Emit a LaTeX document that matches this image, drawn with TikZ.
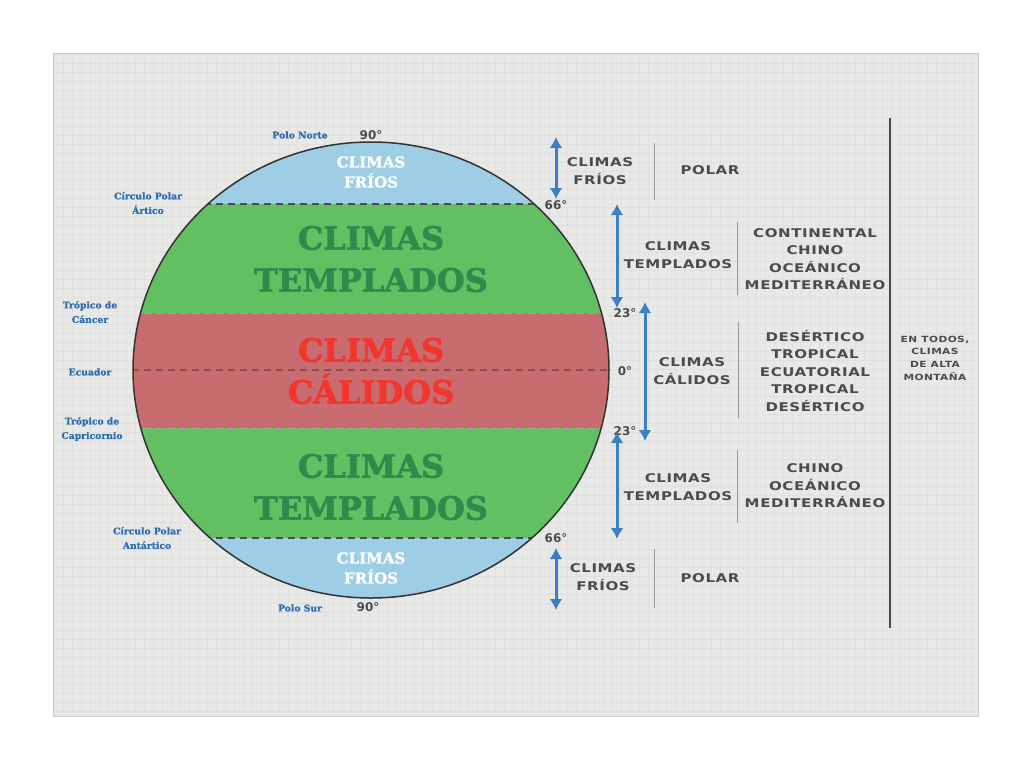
\documentclass[tikz,border=0pt]{standalone}
\usepackage{fontspec}
\usetikzlibrary{arrows.meta}
\setmainfont{DejaVu Serif}
\newfontfamily\slab{DejaVu Serif}[BoldFont={DejaVu Serif Bold},BoldFeatures={FakeBold=2}]
\newfontfamily\slabsmall{DejaVu Serif}[BoldFont={DejaVu Serif Bold},BoldFeatures={FakeBold=1}]
\newfontfamily\wide{DejaVu Sans}[FakeStretch=1.25,LetterSpace=5]
\newfontfamily\degf{DejaVu Sans}
\definecolor{panel}{HTML}{E8E9E7}
\definecolor{gridc}{HTML}{DFE1DF}
\definecolor{iceblue}{HTML}{9ECDE6}
\definecolor{bandgreen}{HTML}{62C062}
\definecolor{bandred}{HTML}{C96C70}
\definecolor{tgreen}{HTML}{2F8A4C}
\definecolor{tred}{HTML}{F2362F}
\definecolor{lblue}{HTML}{2F6DB0}
\definecolor{arrblue}{HTML}{3A80C2}
\definecolor{graytxt}{HTML}{4B4B4B}
\tikzset{
  big/.style={font=\slab\bfseries\fontsize{32}{42}\selectfont, align=center},
  cold/.style={font=\slabsmall\bfseries\fontsize{15}{20}\selectfont, align=center, text=white},
  side/.style={font=\slabsmall\bfseries\fontsize{9.2}{14.5}\selectfont, align=center, text=lblue},
  rlab/.style={font=\wide\bfseries\fontsize{12}{17.5}\selectfont, align=center, text=graytxt},
  deglab/.style={font=\degf\bfseries\fontsize{12}{12}\selectfont, text=graytxt},
  arr/.style={{Latex[length=11pt,width=13pt]}-{Latex[length=11pt,width=13pt]}, line width=3pt, draw=arrblue},
  sep/.style={draw=gray!80, line width=1pt},
}
\begin{document}
\begin{tikzpicture}[x=1pt,y=-1pt]
\useasboundingbox (0,0) rectangle (1024,768);
\fill[white] (0,0) rectangle (1024,768);
\fill[panel] (53,53) rectangle (978,716);
\draw[gridc, line width=0.4pt, step=9pt] (53,53) grid (978,716);
\draw[black!20] (53,53) rectangle (978,716);
% globe bands
\begin{scope}
\clip (371,370) ellipse [x radius=238pt, y radius=228pt];
\fill[iceblue] (120,130) rectangle (620,204);
\fill[bandgreen] (120,204) rectangle (620,313);
\fill[bandred] (120,313) rectangle (620,428);
\fill[bandgreen] (120,428) rectangle (620,538);
\fill[iceblue] (120,538) rectangle (620,610);
\draw[black!70, line width=1.2pt, dash pattern=on 7pt off 5pt] (120,204) -- (620,204);
\draw[black!70, line width=1.2pt, dash pattern=on 7pt off 5pt] (120,538) -- (620,538);
\draw[bandred!70!black, line width=1.2pt, dash pattern=on 7pt off 5pt] (120,370) -- (620,370);
\draw[black!35, line width=0.8pt, dash pattern=on 7pt off 5pt] (120,313) -- (620,313);
\draw[black!35, line width=0.8pt, dash pattern=on 7pt off 5pt] (120,428) -- (620,428);
\end{scope}
\draw[black!80, line width=1.5pt] (371,370) ellipse [x radius=238pt, y radius=228pt];
% band texts
\node[cold] (f1) at (371,172) {CLIMAS\\FRÍOS};
\node[big, text=tgreen] (t1) at (371,259) {CLIMAS\\TEMPLADOS};
\node[big, text=tred] (c1) at (371,371) {CLIMAS\\CÁLIDOS};
\node[big, text=tgreen] (t2) at (371,487) {CLIMAS\\TEMPLADOS};
\node[cold] (f2) at (371,568) {CLIMAS\\FRÍOS};
% left labels
\node[side] (pn) at (300,135) {Polo Norte};
\node[deglab] (d90a) at (371,135) {90°};
\node[side] (cpa) at (148,203) {Círculo Polar\\Ártico};
\node[side] (tc) at (90,312) {Trópico de\\Cáncer};
\node[side] (ec) at (90,372) {Ecuador};
\node[side] (tcp) at (92,429) {Trópico de\\Capricornio};
\node[side] (cpan) at (147,538) {Círculo Polar\\Antártico};
\node[side] (ps) at (300,608) {Polo Sur};
\node[deglab] (d90b) at (368,607) {90°};
% degree labels right
\node[deglab] (d66a) at (556,205) {66°};
\node[deglab] (d23a) at (625,313) {23°};
\node[deglab] (d0) at (625,371) {0°};
\node[deglab] (d23b) at (625,431) {23°};
\node[deglab] (d66b) at (556,538) {66°};
% arrow end points
\coordinate (a1t) at (556,137);
\coordinate (a1b) at (556,199);
\coordinate (a2t) at (617,204);
\coordinate (a2b) at (617,308);
\coordinate (a3t) at (645,302);
\coordinate (a3b) at (645,441);
\coordinate (a4t) at (617,432);
\coordinate (a4b) at (617,539);
\coordinate (a5t) at (556,548);
\coordinate (a5b) at (556,610);
\draw[arr] (a1t) -- (a1b);
\draw[arr] (a2t) -- (a2b);
\draw[arr] (a3t) -- (a3b);
\draw[arr] (a4t) -- (a4b);
\draw[arr] (a5t) -- (a5b);
% right labels
\node[rlab] (r1) at (600,171) {CLIMAS\\FRÍOS};
\node[rlab] (r1b) at (710,170) {POLAR};
\node[rlab] (r2) at (678,255) {CLIMAS\\TEMPLADOS};
\node[rlab] (r2b) at (815,259) {CONTINENTAL\\CHINO\\OCEÁNICO\\MEDITERRÁNEO};
\node[rlab] (r3) at (692,371) {CLIMAS\\CÁLIDOS};
\node[rlab] (r3b) at (815,371) {DESÉRTICO\\TROPICAL\\ECUATORIAL\\TROPICAL\\DESÉRTICO};
\node[rlab] (r4) at (678,487) {CLIMAS\\TEMPLADOS};
\node[rlab] (r4b) at (815,486) {CHINO\\OCEÁNICO\\MEDITERRÁNEO};
\node[rlab] (r5) at (603,577) {CLIMAS\\FRÍOS};
\node[rlab] (r5b) at (710,578) {POLAR};
\node[font=\wide\bfseries\fontsize{8.5}{12.7}\selectfont, align=center, text=graytxt] (mt) at (935,358) {EN TODOS,\\CLIMAS\\DE ALTA\\MONTAÑA};
% separators
\coordinate (s1t) at (654,143); \coordinate (s1b) at (654,200);
\coordinate (s2t) at (737,222); \coordinate (s2b) at (737,295);
\coordinate (s3t) at (738,322); \coordinate (s3b) at (738,418);
\coordinate (s4t) at (737,450); \coordinate (s4b) at (737,523);
\coordinate (s5t) at (654,549); \coordinate (s5b) at (654,608);
\draw[sep] (s1t) -- (s1b);
\draw[sep] (s2t) -- (s2b);
\draw[sep] (s3t) -- (s3b);
\draw[sep] (s4t) -- (s4b);
\draw[sep] (s5t) -- (s5b);
\coordinate (bt) at (890,118); \coordinate (bb) at (890,628);
\draw[black!70, line width=2.5pt] (bt) -- (bb);
\end{tikzpicture}
\end{document}
